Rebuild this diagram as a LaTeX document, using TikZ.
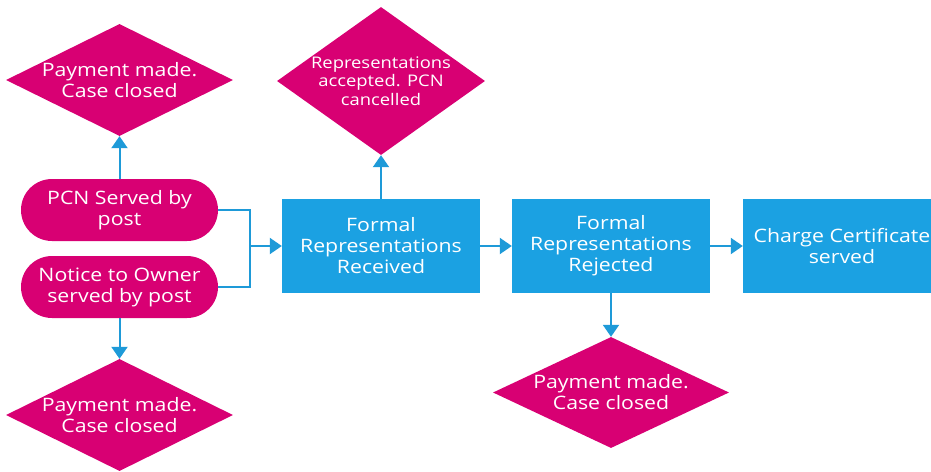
\documentclass[tikz,border=0pt]{standalone}
\usepackage{fontspec}
\setmainfont{Open Sans}
\newfontfamily\widefont[FakeStretch=1.15]{Open Sans}
\usetikzlibrary{shapes.geometric,arrows.meta}
\definecolor{mag}{HTML}{D80073}
\definecolor{boxblue}{HTML}{1BA1E2}
\definecolor{arrblue}{HTML}{1E9AD8}
\begin{document}
\begin{tikzpicture}[x=1pt,y=-1pt,
 dia/.style={diamond, fill=mag, inner sep=0pt, minimum width=227pt, minimum height=112pt},
 pill/.style={rectangle, rounded corners=31pt, fill=mag, minimum width=197pt, minimum height=62pt, inner sep=0pt},
 bbox/.style={rectangle, fill=boxblue, minimum width=198pt, minimum height=94pt, inner sep=0pt},
 txt/.style={text=white, align=center, font=\widefont\fontsize{18.5}{21}\selectfont},
 arr/.style={draw=arrblue, line width=2pt, -{Triangle[length=12pt,width=16pt]}},
 ln/.style={draw=arrblue, line width=2pt}]
\clip (0,0) rectangle (931,471);
\node[dia] (d1) at (119.5,80) {};
\node[txt] (t1) at (d1) {Payment made.\\Case closed};
\node[dia, minimum width=208pt, minimum height=148pt] (d2) at (381,81) {};
\node[txt, font=\widefont\fontsize{16}{18.7}\selectfont] (t2) at (d2) {Representations\\accepted. PCN\\cancelled};
\node[pill, txt] (p1) at (119.5,210) {PCN Served by\\post};
\node[pill, txt] (p2) at (119.5,287) {Notice to Owner\\served by post};
\node[dia] (d3) at (119.5,415) {};
\node[txt] (t3) at (d3) {Payment made.\\Case closed};
\node[bbox, txt] (b1) at (381,246) {Formal\\Representations\\Received};
\node[bbox, txt] (b2) at (611,246) {Formal\\Representations\\Rejected};
\node[bbox, txt] (b3) at (842,246) {Charge Certificate\\served};
\node[dia, minimum width=236pt, minimum height=111pt] (d4) at (611,392.5) {};
\node[txt] (t4) at (d4) {Payment made.\\Case closed};
\coordinate (j) at (250,246);
\draw[arr] (p1.north) -- (d1.south);
\draw[ln] (p1.east) -| (j);
\draw[ln] (p2.east) -| (j);
\draw[arr] (j) -- (b1.west);
\draw[arr] (b1.north) -- (d2.south);
\draw[arr] (p2.south) -- (d3.north);
\draw[arr] (b1.east) -- (b2.west);
\draw[arr] (b2.east) -- (b3.west);
\draw[arr] (b2.south) -- (d4.north);
\end{tikzpicture}
\end{document}
